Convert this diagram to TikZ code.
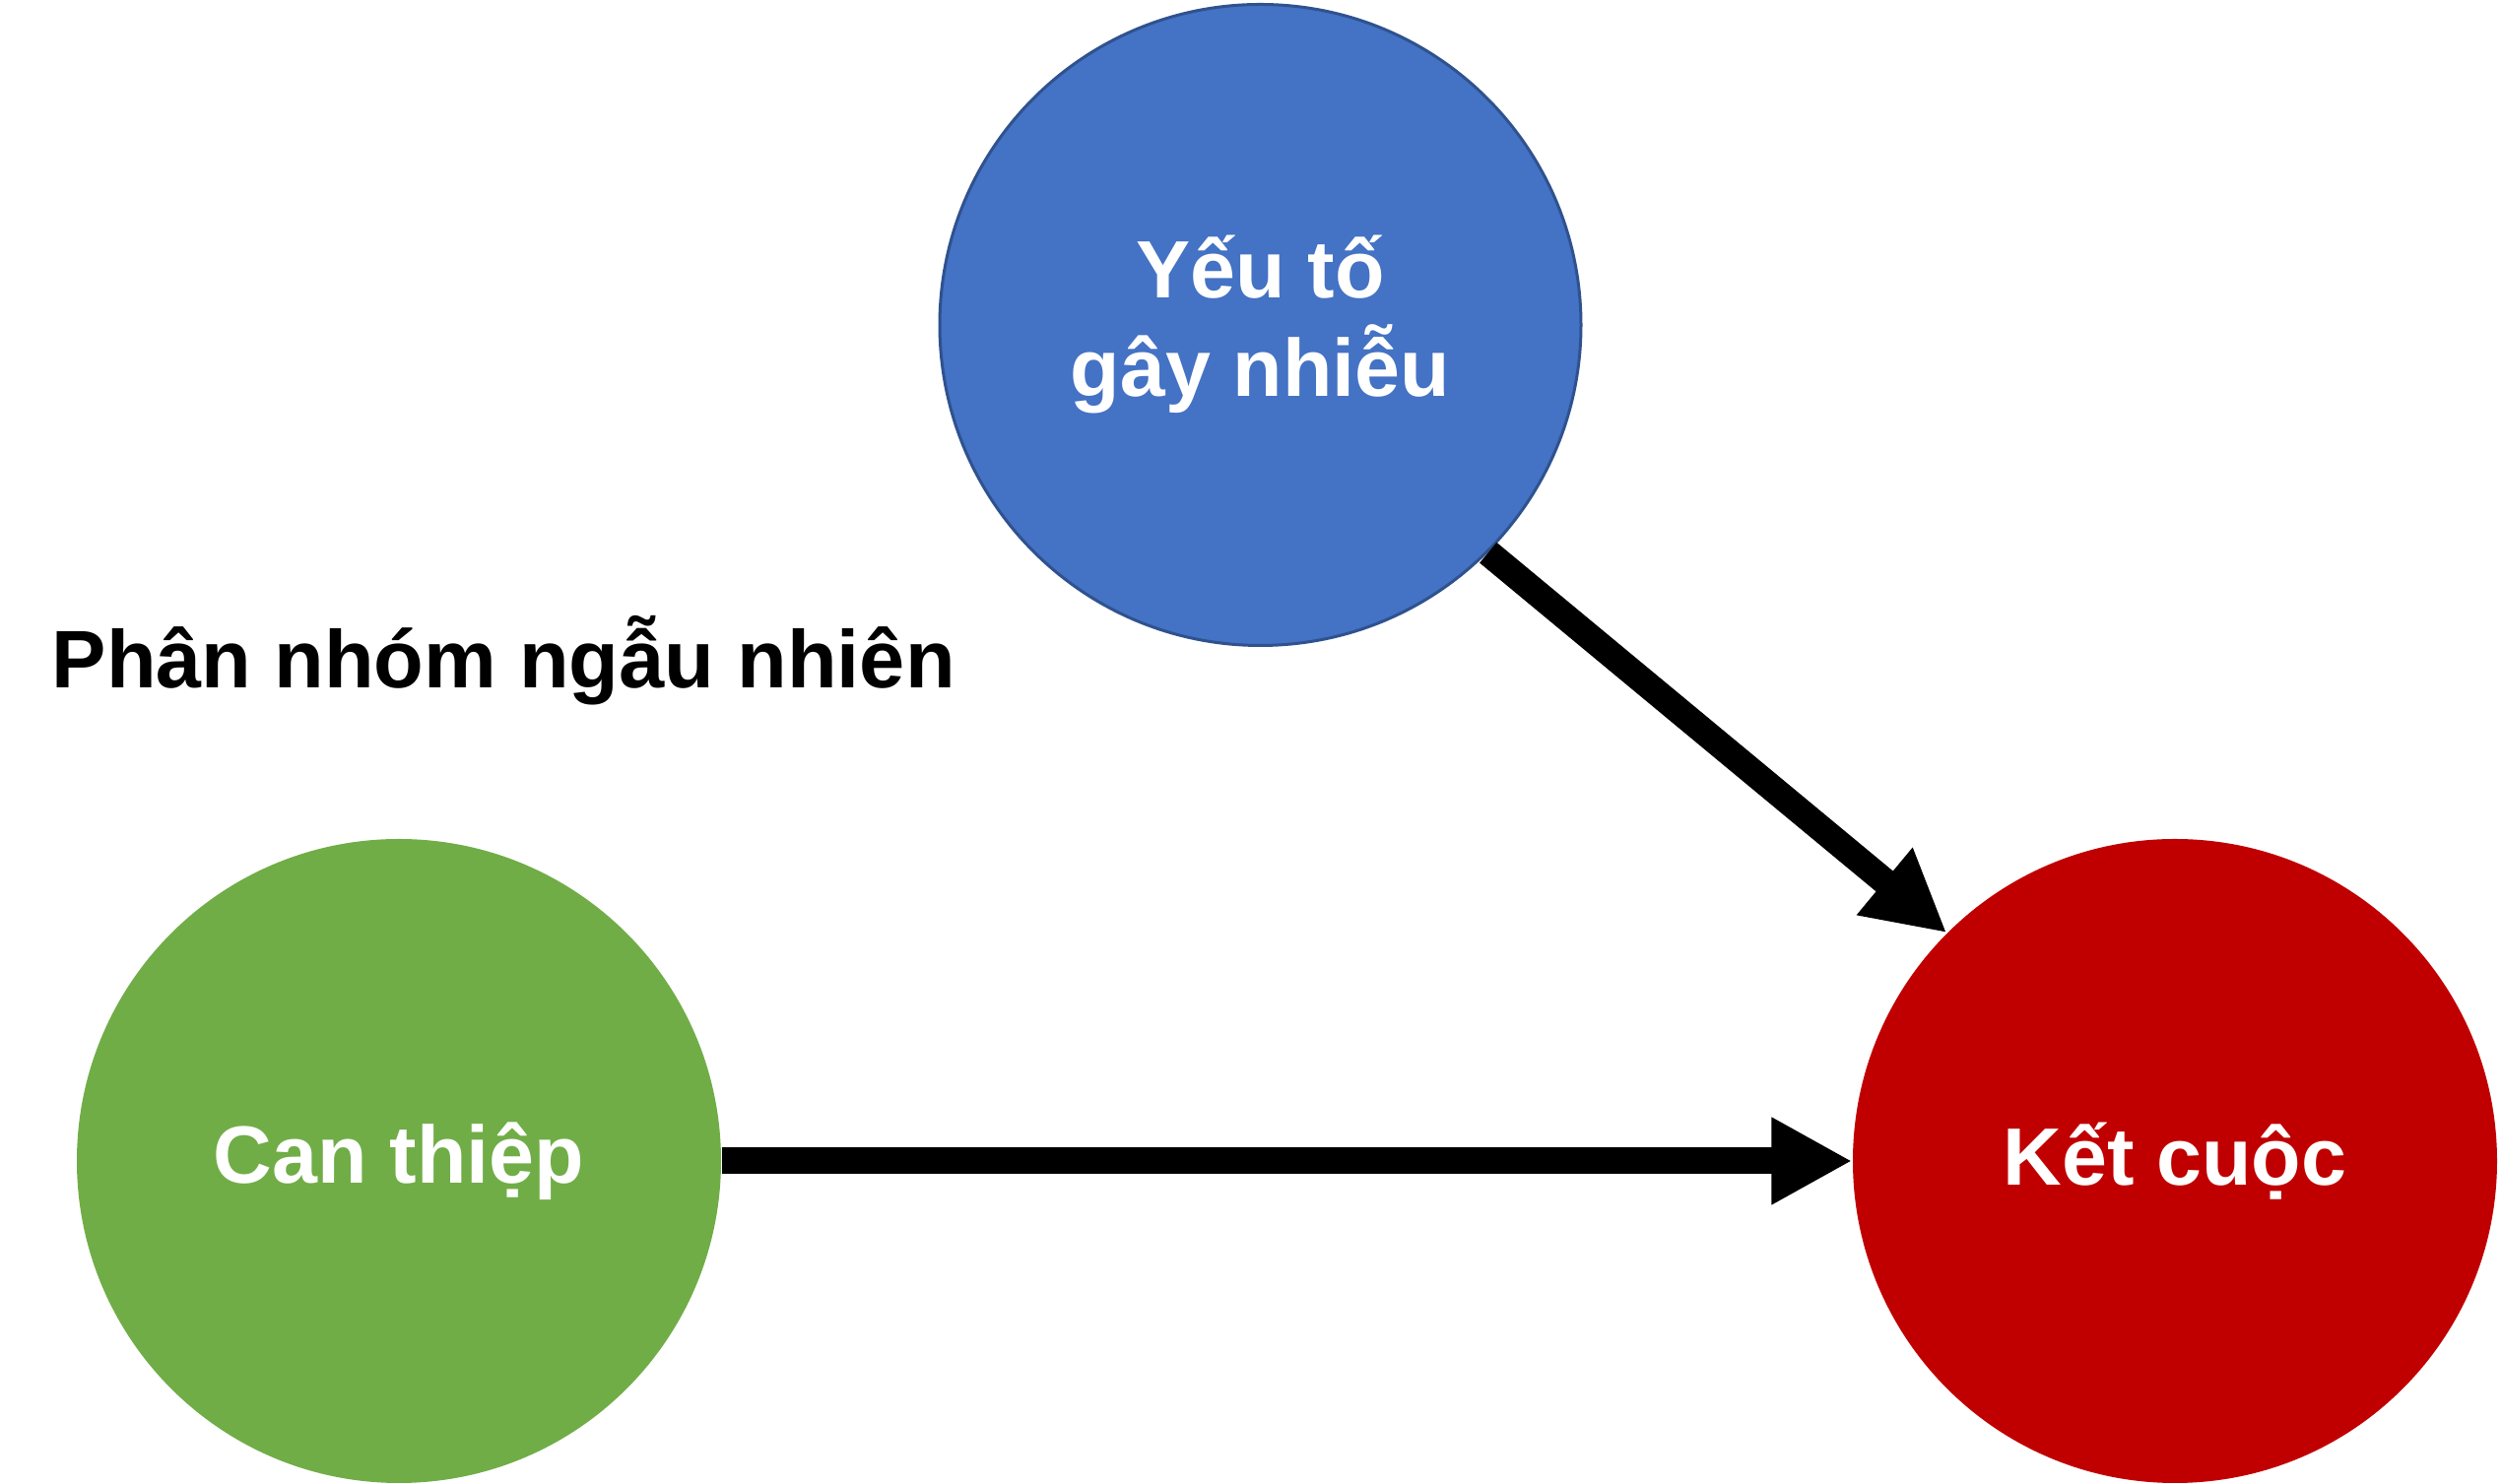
\documentclass[tikz,border=0pt]{standalone}
\usepackage{fontspec}
\setmainfont{Liberation Sans}
\usetikzlibrary{arrows.meta}

\definecolor{confblue}{HTML}{4472C4}
\definecolor{confedge}{HTML}{2F528F}
\definecolor{treatgreen}{HTML}{70AD47}
\definecolor{outcomered}{HTML}{C00000}

\tikzset{
  vertex/.style={circle, minimum size=6.54cm, inner sep=0pt, align=center,
    text=white, font=\bfseries\fontsize{23.5}{28.45}\selectfont},
  effect/.style={->, line width=0.27cm}
}

\begin{document}
\begin{tikzpicture}[>={Triangle[length=0.82cm,width=0.83cm]}]
    \useasboundingbox (0,0) rectangle (25.39,15.07);

    \node[vertex,fill=confblue,draw=confedge,line width=0.03cm,minimum size=6.51cm] (confounder) at (12.795,11.77) {Yếu tố\\gây nhiễu};
    \node[vertex,fill=treatgreen] (treatment) at (4.05,3.28) {Can thiệp};
    \node[vertex,fill=outcomered] (outcome) at (22.08,3.28) {Kết cuộc};

    \node[anchor=base west,inner sep=0pt,font=\bfseries\fontsize{23.6}{28.45}\selectfont] (random) at (0.52,8.08) {Phân nhóm ngẫu nhiên};

    \draw[effect] (treatment.east) -- (outcome.west);
    \draw[effect] (confounder.south east) -- (outcome.north west);

\end{tikzpicture}
\end{document}
